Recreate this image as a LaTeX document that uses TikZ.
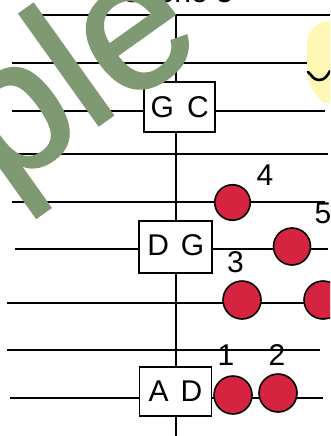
\documentclass[tikz,border=0pt]{standalone}
\usepackage{fontspec}
\setmainfont{Liberation Sans}
\newfontfamily\wmfont[FakeBold=1.5]{Liberation Sans}
\definecolor{dotred}{HTML}{D62340}
\definecolor{wmgreen}{HTML}{7F9A73}
\definecolor{blobyellow}{HTML}{FFF7B4}
\begin{document}
\begin{tikzpicture}[x=1pt,y=-1pt,
  staff/.style={line width=1.8pt},
  chordbox/.style={draw, fill=white, line width=1.8pt, inner sep=0pt,
    font=\fontsize{30}{30}\selectfont},
  dot/.style={circle, draw=black, fill=dotred, line width=1.6pt, inner sep=0pt},
  num/.style={font=\fontsize{30}{30}\selectfont, inner sep=0pt, anchor=base}]
\useasboundingbox (0,0) rectangle (330,436);
\clip (0,0) rectangle (330,436);
\fill[white] (0,0) rectangle (330,436);
% top title (mostly cut off)
\node[num, anchor=base east] (title) at (233,3) {Scene 3};
% staff lines
\draw[staff] (38,15) -- (330,15);
\draw[staff] (12,63) -- (307,63);
\draw[staff] (12,111) -- (325,111);
\draw[staff] (15,154) -- (328,154);
\draw[staff] (12,202) -- (325,202);
\draw[staff] (15,249) -- (328,249);
\draw[staff] (7,303) -- (330,303);
\draw[staff] (7,350) -- (320,350);
\draw[staff] (10,398) -- (323,398);
% vertical line
\coordinate (vtop) at (176,15);
\coordinate (vbot) at (176,440);
\draw[staff] (vtop) -- (vbot);
% chord boxes
\node[chordbox, minimum width=71pt, minimum height=50pt] (gc) at (179.7,107) {G\hspace{13pt}C};
\node[chordbox, minimum width=73pt, minimum height=52pt] (dg) at (175.8,247) {\raisebox{4pt}{D\hspace{12pt}G}};
\node[chordbox, minimum width=72pt, minimum height=49pt] (ad) at (175.5,391.3) {A\hspace{12pt}D};
% dots
\node[dot, minimum size=35.5pt] (d4) at (232.5,202.5) {};
\node[dot, minimum size=37pt] (d5) at (292,246.5) {};
\node[dot, minimum size=38pt] (d3a) at (242,300) {};
\node[dot, minimum size=38pt] (d3b) at (323,300) {};
\node[dot, minimum size=36pt, minimum height=38pt] (d1) at (233,395) {};
\node[dot, minimum size=36pt, minimum height=38pt] (d2) at (278,393) {};
% numbers
\node[num] (n4) at (265,185) {4};
\node[num] (n5) at (323,223) {5};
\node[num] (n3) at (235.5,272) {3};
\node[num] (n1) at (226,365) {1};
\node[num] (n2) at (277,365) {2};
% yellow blob
\fill[blobyellow] (323,22) .. controls (312,26) and (307,34) .. (307,46)
  -- (307,72) .. controls (309,86) and (315,96) .. (324,103) -- (334,103) -- (334,20) -- cycle;
\draw[line width=2.6pt, line cap=round] (308,72) .. controls (312,75) and (313,80) .. (319,80)
  .. controls (325,80) and (327,76) .. (330,71);
% watermark
\node[inner sep=0pt, anchor=base east, rotate=35.5, text=wmgreen,
  font=\wmfont\fontsize{188}{188}\selectfont] (wm) at (208,47) {Sample};
\end{tikzpicture}
\end{document}
